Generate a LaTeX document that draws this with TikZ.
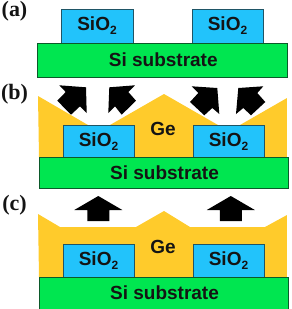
\documentclass[tikz,border=0pt]{standalone}
\usepackage{fontspec}
\setmainfont{Liberation Sans}
\newfontfamily\panelfont{Liberation Serif}
\definecolor{oxide}{HTML}{22C3FB}
\definecolor{oxideline}{HTML}{1F5566}
\definecolor{silicon}{HTML}{00E650}
\definecolor{siliconline}{HTML}{0B5A2A}
\definecolor{germanium}{HTML}{FFCB2B}
\definecolor{labelink}{HTML}{141414}
\tikzset{
  x=1pt, y=-1pt,
  material/.style={font=\fontsize{19}{19}\bfseries\selectfont, text=labelink},
  panel/.style={font=\panelfont\fontsize{22}{22}\bfseries\selectfont, text=labelink},
  oxidebox/.style={draw=oxideline, line width=0.9pt, fill=oxide},
  substrate/.style={draw=siliconline, line width=0.9pt, fill=silicon},
  film/.style={fill=germanium, draw=none},
  growth/.style={fill=black, draw=none},
}
\newcommand{\oxidepad}[5]{%
  \draw[oxidebox] (#2,#3) rectangle (#4,#5);
  \node[material] (#1) at ({(#2+#4)/2},{(#3+#5)/2}) {SiO\raisebox{-0.22em}{\fontsize{12}{12}\selectfont 2}};
}
\newcommand{\siliconbase}[5]{%
  \draw[substrate] (#2,#3) rectangle (#4,#5);
  \node[material] (#1) at ({(#2+#4)/2+1},{(#3+#5)/2}) {Si substrate};
}
\begin{document}
\begin{tikzpicture}
\useasboundingbox (0,0) rectangle (292,309);

% Panel (a): patterned substrate
\node[panel] (la) at (14.5,11) {(a)};
\oxidepad{a1}{61}{9}{133}{43}
\oxidepad{a2}{192}{9}{263}{43}
\siliconbase{as}{37.5}{43}{287}{77}

% Panel (b): faceted film
\node[panel] (lb) at (14.5,94) {(b)};
\fill[film] (38,96) -- (88,125) -- (110,125) -- (164,94) -- (218,125) -- (240,125)
  -- (287,98) -- (287,157) -- (39,157) -- cycle;
\oxidepad{b1}{63}{125.5}{134}{157}
\oxidepad{b2}{193}{125.5}{264}{157}
\siliconbase{bs}{39}{157}{288}{188}
\node[material] (bg) at (163,129) {Ge};
\fill[growth] (86,87.3) -- (59.3,85.3) -- (65.7,92) -- (57.3,100.7) -- (71,114.7)
  -- (80,106.3) -- (86.7,113) -- cycle;
\fill[growth] (109.3,87.3) -- (135,85.3) -- (128.3,92) -- (136,100.7) -- (121.7,114.7)
  -- (115,106.3) -- (108.3,113) -- cycle;
\fill[growth] (217.3,88) -- (191.7,86.3) -- (198.3,93) -- (190,102) -- (204.3,115.3)
  -- (212.3,108) -- (219.3,114) -- cycle;
\fill[growth] (238.3,88) -- (263.3,86.3) -- (257.3,93) -- (265.3,102) -- (251,115.3)
  -- (243.3,108) -- (236,114) -- cycle;

% Panel (c): flattened film
\node[panel] (lc) at (14.5,205) {(c)};
\fill[film] (38,214) -- (60,227) -- (136,227) -- (164,211) -- (190,227) -- (265,227)
  -- (287,215) -- (287,277) -- (39,277) -- cycle;
\oxidepad{c1}{63}{244}{134}{277}
\oxidepad{c2}{193}{244}{264}{277}
\siliconbase{cs}{39}{277}{288}{309}
\node[material] (cg) at (163,247) {Ge};
\fill[growth] (98.3,196) -- (122.3,210) -- (109.3,210) -- (109.3,221) -- (87.3,221)
  -- (87.3,210) -- (74.3,210) -- cycle;
\fill[growth] (230.8,196) -- (254.8,210) -- (241.8,210) -- (241.8,221) -- (219.8,221)
  -- (219.8,210) -- (206.8,210) -- cycle;
\end{tikzpicture}
\end{document}
